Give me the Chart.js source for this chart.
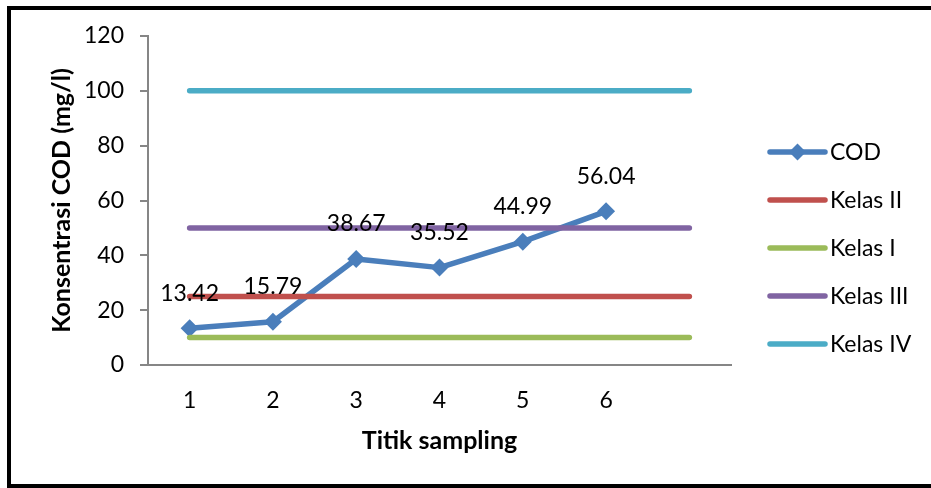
<!DOCTYPE html>
<html>
<head>
<meta charset="utf-8">
<script src="https://cdn.jsdelivr.net/npm/chart.js@4.4.1/dist/chart.umd.min.js"></script>
<style>
  html, body { margin: 0; padding: 0; background: #ffffff; }
  #wrap { position: relative; width: 931px; height: 488px; overflow: hidden; }
  #frame { position: absolute; left: 7px; top: 6px; width: 960px; height: 482px; box-sizing: border-box; border: 4px solid #000; }
  #c { position: absolute; left: 0; top: 0; }
</style>
</head>
<body>
<div id="wrap">
  <div id="frame"></div>
  <canvas id="c" width="931" height="488"></canvas>
</div>
<script>
// ---- data ----
const categories = ['1', '2', '3', '4', '5', '6', ''];
const codValues = [13.42, 15.79, 38.67, 35.52, 44.99, 56.04, null];
const kelasI = [10, 10, 10, 10, 10, 10, 10];
const kelasII = [25, 25, 25, 25, 25, 25, 25];
const kelasIII = [50, 50, 50, 50, 50, 50, 50];
const kelasIV = [100, 100, 100, 100, 100, 100, 100];
const legendOrder = ['COD', 'Kelas II', 'Kelas I', 'Kelas III', 'Kelas IV'];

const FONT = 'Lato, "Open Sans", "Liberation Sans", sans-serif';
const TXT = 23;
const TITLE = 25;

const valueLabels = {
  id: 'valueLabels',
  afterDatasetsDraw(chart) {
    const ctx = chart.ctx;
    const meta = chart.getDatasetMeta(0);
    const ds = chart.data.datasets[0];
    ctx.save();
    ctx.font = TXT + 'px ' + FONT;
    ctx.fillStyle = '#000';
    ctx.textAlign = 'center';
    ctx.textBaseline = 'middle';
    meta.data.forEach((pt, i) => {
      const v = ds.data[i];
      if (v === null || v === undefined) return;
      ctx.fillText(v.toFixed(2), pt.x, pt.y - 35);
    });
    ctx.restore();
  }
};

const sideLegend = {
  id: 'sideLegend',
  afterDraw(chart) {
    const ctx = chart.ctx;
    const x0 = 770, x1 = 825, tx = 830, y0 = 152, step = 48;
    ctx.save();
    legendOrder.forEach((name, k) => {
      const ds = chart.data.datasets.find(d => d.label === name);
      const y = y0 + k * step;
      ctx.strokeStyle = ds.borderColor;
      ctx.lineWidth = 5.5;
      ctx.lineCap = 'round';
      ctx.beginPath();
      ctx.moveTo(x0, y);
      ctx.lineTo(x1, y);
      ctx.stroke();
      if (ds.pointRadius > 0) {
        const r = 8.5, cx = (x0 + x1) / 2;
        ctx.fillStyle = ds.borderColor;
        ctx.beginPath();
        ctx.moveTo(cx, y - r);
        ctx.lineTo(cx + r, y);
        ctx.lineTo(cx, y + r);
        ctx.lineTo(cx - r, y);
        ctx.closePath();
        ctx.fill();
      }
      ctx.fillStyle = '#000';
      ctx.font = TXT + 'px ' + FONT;
      ctx.textAlign = 'left';
      ctx.textBaseline = 'middle';
      ctx.fillText(name, tx, y + 1);
    });
    ctx.restore();
  }
};

const lineDs = (label, data, color, order) => ({
  label, data,
  borderColor: color, backgroundColor: color,
  borderWidth: 5.5, borderCapStyle: 'round', borderJoinStyle: 'round',
  pointRadius: 0, pointHoverRadius: 0, tension: 0, order
});

new Chart(document.getElementById('c'), {
  type: 'line',
  data: {
    labels: categories,
    datasets: [
      {
        label: 'COD', data: codValues,
        borderColor: '#4A7EBB', backgroundColor: '#4A7EBB',
        borderWidth: 5.5, borderJoinStyle: 'round', borderCapStyle: 'round',
        pointStyle: 'rectRot', pointRadius: 9, pointHoverRadius: 9,
        pointBorderWidth: 0, tension: 0, order: 5, spanGaps: false
      },
      lineDs('Kelas II', kelasII, '#C0504D', 4),
      lineDs('Kelas I', kelasI, '#9BBB59', 3),
      lineDs('Kelas III', kelasIII, '#8064A2', 2),
      lineDs('Kelas IV', kelasIV, '#4BACC6', 1)
    ]
  },
  options: {
    responsive: false,
    animation: false,
    devicePixelRatio: 1,
    layout: { padding: { top: 36, right: 200, left: 0, bottom: 0 } },
    plugins: { legend: { display: false }, tooltip: { enabled: false } },
    scales: {
      x: {
        offset: true,
        grid: { display: false, drawTicks: false },
        border: { display: true, color: '#868686', width: 2 },
        ticks: { color: '#000', font: { family: FONT, size: TXT }, padding: 22, maxRotation: 0, autoSkip: false },
        title: { display: true, text: 'Titik sampling', color: '#000',
                 font: { family: FONT, size: TITLE, weight: 'bold' }, padding: { top: 0, bottom: 32 } },
        afterFit(scale) { scale.height = 123; }
      },
      y: {
        min: 0, max: 120,
        grid: { drawOnChartArea: false, drawTicks: true, tickLength: 8, color: '#868686', lineWidth: 2 },
        border: { display: true, color: '#868686', width: 2 },
        ticks: { stepSize: 20, color: '#000', font: { family: FONT, size: TXT }, padding: 16 },
        title: { display: true, text: 'Konsentrasi COD (mg/l)', color: '#000',
                 font: { family: FONT, size: TITLE, weight: 'bold' }, padding: { top: 47, bottom: 0 } },
        afterFit(scale) { scale.width = 148; }
      }
    }
  },
  plugins: [valueLabels, sideLegend]
});
</script>
</body>
</html>
